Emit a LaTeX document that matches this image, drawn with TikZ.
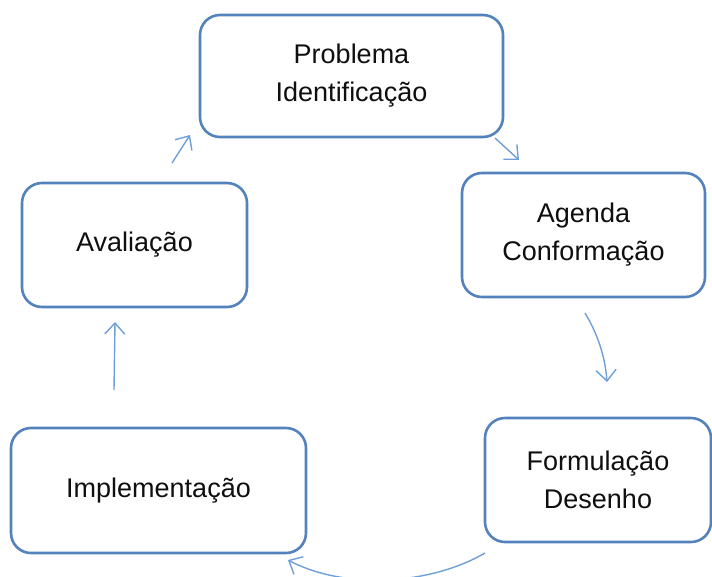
\documentclass[tikz,border=0pt]{standalone}
\usepackage{fontspec}
\setmainfont{Liberation Sans}
\usetikzlibrary{arrows.meta}
\definecolor{boxblue}{RGB}{84,130,188}
\definecolor{arrblue}{RGB}{110,160,215}
\definecolor{txt}{RGB}{15,15,15}
\tikzset{
  stage/.style={draw=boxblue, line width=2.6pt, rounded corners=20pt, fill=white,
    align=center, text=txt, font=\fontsize{27}{38}\selectfont, inner sep=0pt},
  flow/.style={draw=arrblue, line width=1.4pt, -{Straight Barb[length=11pt,width=20pt,line width=1.4pt]}}
}
\begin{document}
\begin{tikzpicture}[x=1pt,y=-1pt]
\useasboundingbox (0,0) rectangle (712,576);
\node[stage, minimum width=303pt, minimum height=122pt] (prob) at (351.5,76) {Problema\\Identificação};
\node[stage, minimum width=243pt, minimum height=124pt] (agenda) at (583.5,235) {Agenda\\Conformação};
\node[stage, minimum width=225pt, minimum height=124pt] (aval) at (134.5,245) {Avaliação};
\node[stage, minimum width=295pt, minimum height=125pt] (impl) at (158.5,490.5) {Implementação};
\node[stage, minimum width=226pt, minimum height=124pt] (form) at (598,480) {Formulação\\Desenho};

\coordinate (a1s) at (172,163); \coordinate (a1e) at (190,135);
\coordinate (a2s) at (495,138); \coordinate (a2e) at (519,160);
\coordinate (a3s) at (585,313); \coordinate (a3e) at (607,382);
\coordinate (a4s) at (485,553); \coordinate (a4e) at (288,560);
\coordinate (a5s) at (114,390); \coordinate (a5e) at (115,322);

\draw[flow] (a1s) -- (a1e);
\draw[flow] (a2s) -- (a2e);
\draw[flow] (a3s) .. controls (597,333) and (605,355) .. (a3e);
\draw[flow] (a4s) .. controls (430,585) and (345,590) .. (a4e);
\draw[flow] (a5s) -- (a5e);
\end{tikzpicture}
\end{document}
